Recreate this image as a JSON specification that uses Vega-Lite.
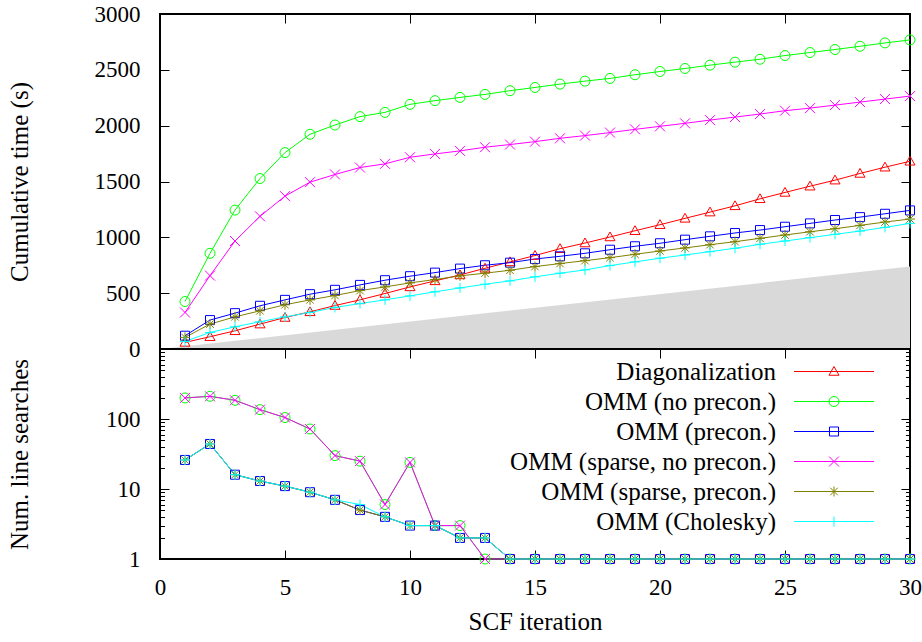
{
  "$schema": "https://vega.github.io/schema/vega-lite/v6.json",
  "background": "white",
  "autosize": {"type": "pad"},
  "padding": {"left": 6, "top": 2, "right": 0, "bottom": 5},
  "spacing": 0,
  "bounds": "flush",
  "config": {
    "view": {"stroke": "black", "strokeWidth": 2},
    "axis": {"domain": false, "grid": false, "tickColor": "black", "tickWidth": 1, "labelFont": "Liberation Serif", "labelFontSize": 23, "labelColor": "black", "labelFlush": false, "labelOverlap": false, "titleFont": "Liberation Serif", "titleFontSize": 25, "titleFontWeight": "normal", "titleColor": "black"}
  },
  "datasets": {
    "timing": [
      {"iter":1,"method":"Diagonalization","time":59},{"iter":2,"method":"Diagonalization","time":110},{"iter":3,"method":"Diagonalization","time":163},{"iter":4,"method":"Diagonalization","time":223},{"iter":5,"method":"Diagonalization","time":282},{"iter":6,"method":"Diagonalization","time":333},{"iter":7,"method":"Diagonalization","time":389},{"iter":8,"method":"Diagonalization","time":440},{"iter":9,"method":"Diagonalization","time":497},{"iter":10,"method":"Diagonalization","time":556},{"iter":11,"method":"Diagonalization","time":610},{"iter":12,"method":"Diagonalization","time":663},{"iter":13,"method":"Diagonalization","time":723},{"iter":14,"method":"Diagonalization","time":780},{"iter":15,"method":"Diagonalization","time":837},{"iter":16,"method":"Diagonalization","time":898},{"iter":17,"method":"Diagonalization","time":949},{"iter":18,"method":"Diagonalization","time":1003},{"iter":19,"method":"Diagonalization","time":1059},{"iter":20,"method":"Diagonalization","time":1113},{"iter":21,"method":"Diagonalization","time":1170},{"iter":22,"method":"Diagonalization","time":1226},{"iter":23,"method":"Diagonalization","time":1282},{"iter":24,"method":"Diagonalization","time":1345},{"iter":25,"method":"Diagonalization","time":1402},{"iter":26,"method":"Diagonalization","time":1458},{"iter":27,"method":"Diagonalization","time":1512},{"iter":28,"method":"Diagonalization","time":1572},{"iter":29,"method":"Diagonalization","time":1628},{"iter":30,"method":"Diagonalization","time":1681},
      {"iter":1,"method":"OMM (no precon.)","time":425},{"iter":2,"method":"OMM (no precon.)","time":857},{"iter":3,"method":"OMM (no precon.)","time":1244},{"iter":4,"method":"OMM (no precon.)","time":1527},{"iter":5,"method":"OMM (no precon.)","time":1759},{"iter":6,"method":"OMM (no precon.)","time":1923},{"iter":7,"method":"OMM (no precon.)","time":2006},{"iter":8,"method":"OMM (no precon.)","time":2081},{"iter":9,"method":"OMM (no precon.)","time":2119},{"iter":10,"method":"OMM (no precon.)","time":2191},{"iter":11,"method":"OMM (no precon.)","time":2224},{"iter":12,"method":"OMM (no precon.)","time":2253},{"iter":13,"method":"OMM (no precon.)","time":2280},{"iter":14,"method":"OMM (no precon.)","time":2313},{"iter":15,"method":"OMM (no precon.)","time":2342},{"iter":16,"method":"OMM (no precon.)","time":2372},{"iter":17,"method":"OMM (no precon.)","time":2399},{"iter":18,"method":"OMM (no precon.)","time":2423},{"iter":19,"method":"OMM (no precon.)","time":2456},{"iter":20,"method":"OMM (no precon.)","time":2485},{"iter":21,"method":"OMM (no precon.)","time":2512},{"iter":22,"method":"OMM (no precon.)","time":2542},{"iter":23,"method":"OMM (no precon.)","time":2569},{"iter":24,"method":"OMM (no precon.)","time":2595},{"iter":25,"method":"OMM (no precon.)","time":2628},{"iter":26,"method":"OMM (no precon.)","time":2655},{"iter":27,"method":"OMM (no precon.)","time":2682},{"iter":28,"method":"OMM (no precon.)","time":2711},{"iter":29,"method":"OMM (no precon.)","time":2741},{"iter":30,"method":"OMM (no precon.)","time":2768},
      {"iter":1,"method":"OMM (precon.)","time":119},{"iter":2,"method":"OMM (precon.)","time":259},{"iter":3,"method":"OMM (precon.)","time":321},{"iter":4,"method":"OMM (precon.)","time":387},{"iter":5,"method":"OMM (precon.)","time":440},{"iter":6,"method":"OMM (precon.)","time":491},{"iter":7,"method":"OMM (precon.)","time":530},{"iter":8,"method":"OMM (precon.)","time":574},{"iter":9,"method":"OMM (precon.)","time":616},{"iter":10,"method":"OMM (precon.)","time":652},{"iter":11,"method":"OMM (precon.)","time":684},{"iter":12,"method":"OMM (precon.)","time":720},{"iter":13,"method":"OMM (precon.)","time":750},{"iter":14,"method":"OMM (precon.)","time":773},{"iter":15,"method":"OMM (precon.)","time":806},{"iter":16,"method":"OMM (precon.)","time":830},{"iter":17,"method":"OMM (precon.)","time":857},{"iter":18,"method":"OMM (precon.)","time":889},{"iter":19,"method":"OMM (precon.)","time":920},{"iter":20,"method":"OMM (precon.)","time":947},{"iter":21,"method":"OMM (precon.)","time":979},{"iter":22,"method":"OMM (precon.)","time":1009},{"iter":23,"method":"OMM (precon.)","time":1039},{"iter":24,"method":"OMM (precon.)","time":1065},{"iter":25,"method":"OMM (precon.)","time":1095},{"iter":26,"method":"OMM (precon.)","time":1125},{"iter":27,"method":"OMM (precon.)","time":1155},{"iter":28,"method":"OMM (precon.)","time":1181},{"iter":29,"method":"OMM (precon.)","time":1211},{"iter":30,"method":"OMM (precon.)","time":1241},
      {"iter":1,"method":"OMM (sparse, no precon.)","time":327},{"iter":2,"method":"OMM (sparse, no precon.)","time":657},{"iter":3,"method":"OMM (sparse, no precon.)","time":967},{"iter":4,"method":"OMM (sparse, no precon.)","time":1188},{"iter":5,"method":"OMM (sparse, no precon.)","time":1369},{"iter":6,"method":"OMM (sparse, no precon.)","time":1494},{"iter":7,"method":"OMM (sparse, no precon.)","time":1563},{"iter":8,"method":"OMM (sparse, no precon.)","time":1625},{"iter":9,"method":"OMM (sparse, no precon.)","time":1658},{"iter":10,"method":"OMM (sparse, no precon.)","time":1717},{"iter":11,"method":"OMM (sparse, no precon.)","time":1747},{"iter":12,"method":"OMM (sparse, no precon.)","time":1774},{"iter":13,"method":"OMM (sparse, no precon.)","time":1807},{"iter":14,"method":"OMM (sparse, no precon.)","time":1831},{"iter":15,"method":"OMM (sparse, no precon.)","time":1857},{"iter":16,"method":"OMM (sparse, no precon.)","time":1887},{"iter":17,"method":"OMM (sparse, no precon.)","time":1911},{"iter":18,"method":"OMM (sparse, no precon.)","time":1938},{"iter":19,"method":"OMM (sparse, no precon.)","time":1967},{"iter":20,"method":"OMM (sparse, no precon.)","time":1994},{"iter":21,"method":"OMM (sparse, no precon.)","time":2021},{"iter":22,"method":"OMM (sparse, no precon.)","time":2050},{"iter":23,"method":"OMM (sparse, no precon.)","time":2077},{"iter":24,"method":"OMM (sparse, no precon.)","time":2104},{"iter":25,"method":"OMM (sparse, no precon.)","time":2134},{"iter":26,"method":"OMM (sparse, no precon.)","time":2157},{"iter":27,"method":"OMM (sparse, no precon.)","time":2184},{"iter":28,"method":"OMM (sparse, no precon.)","time":2211},{"iter":29,"method":"OMM (sparse, no precon.)","time":2238},{"iter":30,"method":"OMM (sparse, no precon.)","time":2265},
      {"iter":1,"method":"OMM (sparse, precon.)","time":104},{"iter":2,"method":"OMM (sparse, precon.)","time":223},{"iter":3,"method":"OMM (sparse, precon.)","time":288},{"iter":4,"method":"OMM (sparse, precon.)","time":342},{"iter":5,"method":"OMM (sparse, precon.)","time":396},{"iter":6,"method":"OMM (sparse, precon.)","time":440},{"iter":7,"method":"OMM (sparse, precon.)","time":479},{"iter":8,"method":"OMM (sparse, precon.)","time":523},{"iter":9,"method":"OMM (sparse, precon.)","time":556},{"iter":10,"method":"OMM (sparse, precon.)","time":592},{"iter":11,"method":"OMM (sparse, precon.)","time":622},{"iter":12,"method":"OMM (sparse, precon.)","time":655},{"iter":13,"method":"OMM (sparse, precon.)","time":679},{"iter":14,"method":"OMM (sparse, precon.)","time":705},{"iter":15,"method":"OMM (sparse, precon.)","time":738},{"iter":16,"method":"OMM (sparse, precon.)","time":765},{"iter":17,"method":"OMM (sparse, precon.)","time":791},{"iter":18,"method":"OMM (sparse, precon.)","time":818},{"iter":19,"method":"OMM (sparse, precon.)","time":848},{"iter":20,"method":"OMM (sparse, precon.)","time":878},{"iter":21,"method":"OMM (sparse, precon.)","time":905},{"iter":22,"method":"OMM (sparse, precon.)","time":934},{"iter":23,"method":"OMM (sparse, precon.)","time":961},{"iter":24,"method":"OMM (sparse, precon.)","time":991},{"iter":25,"method":"OMM (sparse, precon.)","time":1021},{"iter":26,"method":"OMM (sparse, precon.)","time":1050},{"iter":27,"method":"OMM (sparse, precon.)","time":1077},{"iter":28,"method":"OMM (sparse, precon.)","time":1107},{"iter":29,"method":"OMM (sparse, precon.)","time":1137},{"iter":30,"method":"OMM (sparse, precon.)","time":1164},
      {"iter":1,"method":"OMM (Cholesky)","time":68},{"iter":2,"method":"OMM (Cholesky)","time":148},{"iter":3,"method":"OMM (Cholesky)","time":199},{"iter":4,"method":"OMM (Cholesky)","time":244},{"iter":5,"method":"OMM (Cholesky)","time":288},{"iter":6,"method":"OMM (Cholesky)","time":327},{"iter":7,"method":"OMM (Cholesky)","time":372},{"iter":8,"method":"OMM (Cholesky)","time":407},{"iter":9,"method":"OMM (Cholesky)","time":440},{"iter":10,"method":"OMM (Cholesky)","time":476},{"iter":11,"method":"OMM (Cholesky)","time":512},{"iter":12,"method":"OMM (Cholesky)","time":547},{"iter":13,"method":"OMM (Cholesky)","time":580},{"iter":14,"method":"OMM (Cholesky)","time":610},{"iter":15,"method":"OMM (Cholesky)","time":646},{"iter":16,"method":"OMM (Cholesky)","time":679},{"iter":17,"method":"OMM (Cholesky)","time":708},{"iter":18,"method":"OMM (Cholesky)","time":747},{"iter":19,"method":"OMM (Cholesky)","time":780},{"iter":20,"method":"OMM (Cholesky)","time":813},{"iter":21,"method":"OMM (Cholesky)","time":842},{"iter":22,"method":"OMM (Cholesky)","time":872},{"iter":23,"method":"OMM (Cholesky)","time":902},{"iter":24,"method":"OMM (Cholesky)","time":938},{"iter":25,"method":"OMM (Cholesky)","time":967},{"iter":26,"method":"OMM (Cholesky)","time":997},{"iter":27,"method":"OMM (Cholesky)","time":1027},{"iter":28,"method":"OMM (Cholesky)","time":1056},{"iter":29,"method":"OMM (Cholesky)","time":1089},{"iter":30,"method":"OMM (Cholesky)","time":1125}
    ],
    "searches": [
      {"iter":1,"method":"OMM (no precon.)","count":200},{"iter":2,"method":"OMM (no precon.)","count":211},{"iter":3,"method":"OMM (no precon.)","count":185},{"iter":4,"method":"OMM (no precon.)","count":136},{"iter":5,"method":"OMM (no precon.)","count":105},{"iter":6,"method":"OMM (no precon.)","count":72},{"iter":7,"method":"OMM (no precon.)","count":30},{"iter":8,"method":"OMM (no precon.)","count":25},{"iter":9,"method":"OMM (no precon.)","count":6},{"iter":10,"method":"OMM (no precon.)","count":24},{"iter":11,"method":"OMM (no precon.)","count":3},{"iter":12,"method":"OMM (no precon.)","count":3},{"iter":13,"method":"OMM (no precon.)","count":1},{"iter":14,"method":"OMM (no precon.)","count":1},{"iter":15,"method":"OMM (no precon.)","count":1},{"iter":16,"method":"OMM (no precon.)","count":1},{"iter":17,"method":"OMM (no precon.)","count":1},{"iter":18,"method":"OMM (no precon.)","count":1},{"iter":19,"method":"OMM (no precon.)","count":1},{"iter":20,"method":"OMM (no precon.)","count":1},{"iter":21,"method":"OMM (no precon.)","count":1},{"iter":22,"method":"OMM (no precon.)","count":1},{"iter":23,"method":"OMM (no precon.)","count":1},{"iter":24,"method":"OMM (no precon.)","count":1},{"iter":25,"method":"OMM (no precon.)","count":1},{"iter":26,"method":"OMM (no precon.)","count":1},{"iter":27,"method":"OMM (no precon.)","count":1},{"iter":28,"method":"OMM (no precon.)","count":1},{"iter":29,"method":"OMM (no precon.)","count":1},{"iter":30,"method":"OMM (no precon.)","count":1},
      {"iter":1,"method":"OMM (precon.)","count":26},{"iter":2,"method":"OMM (precon.)","count":44},{"iter":3,"method":"OMM (precon.)","count":16},{"iter":4,"method":"OMM (precon.)","count":13},{"iter":5,"method":"OMM (precon.)","count":11},{"iter":6,"method":"OMM (precon.)","count":9},{"iter":7,"method":"OMM (precon.)","count":7},{"iter":8,"method":"OMM (precon.)","count":5},{"iter":9,"method":"OMM (precon.)","count":4},{"iter":10,"method":"OMM (precon.)","count":3},{"iter":11,"method":"OMM (precon.)","count":3},{"iter":12,"method":"OMM (precon.)","count":2},{"iter":13,"method":"OMM (precon.)","count":2},{"iter":14,"method":"OMM (precon.)","count":1},{"iter":15,"method":"OMM (precon.)","count":1},{"iter":16,"method":"OMM (precon.)","count":1},{"iter":17,"method":"OMM (precon.)","count":1},{"iter":18,"method":"OMM (precon.)","count":1},{"iter":19,"method":"OMM (precon.)","count":1},{"iter":20,"method":"OMM (precon.)","count":1},{"iter":21,"method":"OMM (precon.)","count":1},{"iter":22,"method":"OMM (precon.)","count":1},{"iter":23,"method":"OMM (precon.)","count":1},{"iter":24,"method":"OMM (precon.)","count":1},{"iter":25,"method":"OMM (precon.)","count":1},{"iter":26,"method":"OMM (precon.)","count":1},{"iter":27,"method":"OMM (precon.)","count":1},{"iter":28,"method":"OMM (precon.)","count":1},{"iter":29,"method":"OMM (precon.)","count":1},{"iter":30,"method":"OMM (precon.)","count":1},
      {"iter":1,"method":"OMM (sparse, no precon.)","count":200},{"iter":2,"method":"OMM (sparse, no precon.)","count":211},{"iter":3,"method":"OMM (sparse, no precon.)","count":185},{"iter":4,"method":"OMM (sparse, no precon.)","count":136},{"iter":5,"method":"OMM (sparse, no precon.)","count":105},{"iter":6,"method":"OMM (sparse, no precon.)","count":72},{"iter":7,"method":"OMM (sparse, no precon.)","count":30},{"iter":8,"method":"OMM (sparse, no precon.)","count":25},{"iter":9,"method":"OMM (sparse, no precon.)","count":6},{"iter":10,"method":"OMM (sparse, no precon.)","count":24},{"iter":11,"method":"OMM (sparse, no precon.)","count":3},{"iter":12,"method":"OMM (sparse, no precon.)","count":3},{"iter":13,"method":"OMM (sparse, no precon.)","count":1},{"iter":14,"method":"OMM (sparse, no precon.)","count":1},{"iter":15,"method":"OMM (sparse, no precon.)","count":1},{"iter":16,"method":"OMM (sparse, no precon.)","count":1},{"iter":17,"method":"OMM (sparse, no precon.)","count":1},{"iter":18,"method":"OMM (sparse, no precon.)","count":1},{"iter":19,"method":"OMM (sparse, no precon.)","count":1},{"iter":20,"method":"OMM (sparse, no precon.)","count":1},{"iter":21,"method":"OMM (sparse, no precon.)","count":1},{"iter":22,"method":"OMM (sparse, no precon.)","count":1},{"iter":23,"method":"OMM (sparse, no precon.)","count":1},{"iter":24,"method":"OMM (sparse, no precon.)","count":1},{"iter":25,"method":"OMM (sparse, no precon.)","count":1},{"iter":26,"method":"OMM (sparse, no precon.)","count":1},{"iter":27,"method":"OMM (sparse, no precon.)","count":1},{"iter":28,"method":"OMM (sparse, no precon.)","count":1},{"iter":29,"method":"OMM (sparse, no precon.)","count":1},{"iter":30,"method":"OMM (sparse, no precon.)","count":1},
      {"iter":1,"method":"OMM (sparse, precon.)","count":26},{"iter":2,"method":"OMM (sparse, precon.)","count":44},{"iter":3,"method":"OMM (sparse, precon.)","count":16},{"iter":4,"method":"OMM (sparse, precon.)","count":13},{"iter":5,"method":"OMM (sparse, precon.)","count":11},{"iter":6,"method":"OMM (sparse, precon.)","count":9},{"iter":7,"method":"OMM (sparse, precon.)","count":7},{"iter":8,"method":"OMM (sparse, precon.)","count":5},{"iter":9,"method":"OMM (sparse, precon.)","count":4},{"iter":10,"method":"OMM (sparse, precon.)","count":3},{"iter":11,"method":"OMM (sparse, precon.)","count":3},{"iter":12,"method":"OMM (sparse, precon.)","count":2},{"iter":13,"method":"OMM (sparse, precon.)","count":2},{"iter":14,"method":"OMM (sparse, precon.)","count":1},{"iter":15,"method":"OMM (sparse, precon.)","count":1},{"iter":16,"method":"OMM (sparse, precon.)","count":1},{"iter":17,"method":"OMM (sparse, precon.)","count":1},{"iter":18,"method":"OMM (sparse, precon.)","count":1},{"iter":19,"method":"OMM (sparse, precon.)","count":1},{"iter":20,"method":"OMM (sparse, precon.)","count":1},{"iter":21,"method":"OMM (sparse, precon.)","count":1},{"iter":22,"method":"OMM (sparse, precon.)","count":1},{"iter":23,"method":"OMM (sparse, precon.)","count":1},{"iter":24,"method":"OMM (sparse, precon.)","count":1},{"iter":25,"method":"OMM (sparse, precon.)","count":1},{"iter":26,"method":"OMM (sparse, precon.)","count":1},{"iter":27,"method":"OMM (sparse, precon.)","count":1},{"iter":28,"method":"OMM (sparse, precon.)","count":1},{"iter":29,"method":"OMM (sparse, precon.)","count":1},{"iter":30,"method":"OMM (sparse, precon.)","count":1},
      {"iter":1,"method":"OMM (Cholesky)","count":26},{"iter":2,"method":"OMM (Cholesky)","count":44},{"iter":3,"method":"OMM (Cholesky)","count":16},{"iter":4,"method":"OMM (Cholesky)","count":13},{"iter":5,"method":"OMM (Cholesky)","count":11},{"iter":6,"method":"OMM (Cholesky)","count":9},{"iter":7,"method":"OMM (Cholesky)","count":7},{"iter":8,"method":"OMM (Cholesky)","count":6},{"iter":9,"method":"OMM (Cholesky)","count":4},{"iter":10,"method":"OMM (Cholesky)","count":3},{"iter":11,"method":"OMM (Cholesky)","count":3},{"iter":12,"method":"OMM (Cholesky)","count":2},{"iter":13,"method":"OMM (Cholesky)","count":2},{"iter":14,"method":"OMM (Cholesky)","count":1},{"iter":15,"method":"OMM (Cholesky)","count":1},{"iter":16,"method":"OMM (Cholesky)","count":1},{"iter":17,"method":"OMM (Cholesky)","count":1},{"iter":18,"method":"OMM (Cholesky)","count":1},{"iter":19,"method":"OMM (Cholesky)","count":1},{"iter":20,"method":"OMM (Cholesky)","count":1},{"iter":21,"method":"OMM (Cholesky)","count":1},{"iter":22,"method":"OMM (Cholesky)","count":1},{"iter":23,"method":"OMM (Cholesky)","count":1},{"iter":24,"method":"OMM (Cholesky)","count":1},{"iter":25,"method":"OMM (Cholesky)","count":1},{"iter":26,"method":"OMM (Cholesky)","count":1},{"iter":27,"method":"OMM (Cholesky)","count":1},{"iter":28,"method":"OMM (Cholesky)","count":1},{"iter":29,"method":"OMM (Cholesky)","count":1},{"iter":30,"method":"OMM (Cholesky)","count":1}
    ],
    "band": [{"iter": 0, "time": 0}, {"iter": 30, "time": 738}]
  },
  "vconcat": [
    {
      "width": 750,
      "height": 335,
      "layer": [
        {
          "data": {"name": "band"},
          "mark": {"type": "area", "color": "#d9d9d9"},
          "encoding": {
            "x": {"field": "iter", "type": "quantitative", "scale": {"domain": [0, 30], "nice": false, "zero": false}, "axis": {"orient": "bottom", "values": [5, 10, 15, 20, 25], "labels": false, "tickSize": -9, "title": null}},
            "y": {"field": "time", "type": "quantitative", "scale": {"domain": [0, 3000], "nice": false}, "axis": {"orient": "left", "values": [0, 500, 1000, 1500, 2000, 2500, 3000], "format": "d", "tickSize": -9, "labelPadding": 29, "title": "Cumulative time (s)", "titleX": -128}}
          }
        },
        {
          "data": {"name": "timing"},
          "mark": {"type": "line", "strokeWidth": 1},
          "encoding": {
            "x": {"field": "iter", "type": "quantitative", "axis": null},
            "y": {"field": "time", "type": "quantitative", "axis": null},
            "color": {"field": "method", "type": "nominal", "scale": {"domain": ["Diagonalization", "OMM (no precon.)", "OMM (precon.)", "OMM (sparse, no precon.)", "OMM (sparse, precon.)", "OMM (Cholesky)"], "range": ["#ff0000", "#00ff00", "#0000ff", "#ff00ff", "#808000", "#00ffff"]}, "legend": null}
          }
        },
        {
          "data": {"name": "timing"},
          "mark": {"type": "point", "filled": false, "strokeWidth": 1, "size": 100, "opacity": 1},
          "encoding": {
            "x": {"field": "iter", "type": "quantitative", "axis": null},
            "y": {"field": "time", "type": "quantitative", "axis": null},
            "color": {"field": "method", "type": "nominal", "scale": {"domain": ["Diagonalization", "OMM (no precon.)", "OMM (precon.)", "OMM (sparse, no precon.)", "OMM (sparse, precon.)", "OMM (Cholesky)"], "range": ["#ff0000", "#00ff00", "#0000ff", "#ff00ff", "#808000", "#00ffff"]}, "legend": null},
            "shape": {"field": "method", "type": "nominal", "scale": {"domain": ["Diagonalization", "OMM (no precon.)", "OMM (precon.)", "OMM (sparse, no precon.)", "OMM (sparse, precon.)", "OMM (Cholesky)"], "range": ["M0,-1L1,0.75L-1,0.75Z", "M1,0A1,1,0,1,1,-1,0A1,1,0,1,1,1,0Z", "M-0.9,-0.9L0.9,-0.9L0.9,0.9L-0.9,0.9Z", "M-1,-1L1,1M-1,1L1,-1", "M-1,0L1,0M0,-1L0,1M-0.75,-0.75L0.75,0.75M-0.75,0.75L0.75,-0.75", "M-1,0L1,0M0,-1L0,1"]}, "legend": null}
          }
        },
        {
          "data": {"name": "timing"},
          "mark": {"type": "point", "opacity": 0},
          "encoding": {
            "x": {"field": "iter", "type": "quantitative", "axis": {"orient": "top", "values": [5, 10, 15, 20, 25], "labels": false, "tickSize": -9, "title": null}},
            "y": {"field": "time", "type": "quantitative", "axis": {"orient": "right", "values": [500, 1000, 1500, 2000, 2500], "labels": false, "tickSize": -9, "title": null}}
          }
        }
      ],
      "resolve": {"axis": {"x": "independent", "y": "independent"}}
    },
    {
      "width": 750,
      "height": 210,
      "layer": [
        {
          "data": {"name": "searches"},
          "mark": {"type": "line", "strokeWidth": 1},
          "encoding": {
            "x": {"field": "iter", "type": "quantitative", "scale": {"domain": [0, 30], "nice": false, "zero": false}, "axis": {"orient": "bottom", "values": [0, 5, 10, 15, 20, 25, 30], "tickSize": -9, "labelPadding": 26, "title": "SCF iteration", "titlePadding": 10}},
            "y": {"field": "count", "type": "quantitative", "scale": {"type": "log", "domain": [1, 1000], "nice": false}, "axis": {"orient": "left", "values": [1, 10, 100, 1000], "format": "d", "labelExpr": "datum.value < 500 ? datum.label : ''", "tickSize": -9, "labelPadding": 29, "title": "Num. line searches", "titleX": -128}},
            "color": {"field": "method", "type": "nominal", "scale": {"domain": ["Diagonalization", "OMM (no precon.)", "OMM (precon.)", "OMM (sparse, no precon.)", "OMM (sparse, precon.)", "OMM (Cholesky)"], "range": ["#ff0000", "#00ff00", "#0000ff", "#ff00ff", "#808000", "#00ffff"]},
              "legend": {"orient": "none", "legendX": 616, "legendY": 10, "title": null, "direction": "vertical", "padding": 0, "labelFont": "Liberation Serif", "labelFontSize": 25, "labelColor": "black", "labelLimit": 0, "symbolSize": 100, "symbolStrokeWidth": 1, "symbolOpacity": 1, "symbolFillColor": "transparent", "rowPadding": 4,
                "encode": {"symbols": {"update": {"x": {"value": 58}}}, "labels": {"update": {"x": {"value": 0}, "align": {"value": "right"}}}}}}
          }
        },
        {
          "data": {"name": "searches"},
          "transform": [{"filter": "datum.method === 'OMM (no precon.)'"}],
          "mark": {"type": "point", "filled": false, "strokeWidth": 1, "size": 100, "opacity": 1, "color": "#00ff00", "shape": "M1,0A1,1,0,1,1,-1,0A1,1,0,1,1,1,0Z"},
          "encoding": {
            "x": {"field": "iter", "type": "quantitative", "axis": null},
            "y": {"field": "count", "type": "quantitative", "axis": {"orient": "left", "values": [2, 3, 4, 5, 6, 7, 8, 9, 20, 30, 40, 50, 60, 70, 80, 90, 200, 300, 400, 500, 600, 700, 800, 900], "labels": false, "tickSize": -4.5, "title": null}}
          }
        },
        {
          "data": {"name": "searches"},
          "transform": [{"filter": "datum.method === 'OMM (precon.)'"}],
          "mark": {"type": "point", "filled": false, "strokeWidth": 1, "size": 100, "opacity": 1, "color": "#0000ff", "shape": "M-0.9,-0.9L0.9,-0.9L0.9,0.9L-0.9,0.9Z"},
          "encoding": {
            "x": {"field": "iter", "type": "quantitative", "axis": null},
            "y": {"field": "count", "type": "quantitative", "axis": null}
          }
        },
        {
          "data": {"name": "searches"},
          "transform": [{"filter": "datum.method === 'OMM (sparse, no precon.)'"}],
          "mark": {"type": "point", "filled": false, "strokeWidth": 1, "size": 100, "opacity": 1, "color": "#ff00ff", "shape": "M-1,-1L1,1M-1,1L1,-1"},
          "encoding": {
            "x": {"field": "iter", "type": "quantitative", "axis": null},
            "y": {"field": "count", "type": "quantitative", "axis": null}
          }
        },
        {
          "data": {"name": "searches"},
          "transform": [{"filter": "datum.method === 'OMM (sparse, precon.)'"}],
          "mark": {"type": "point", "filled": false, "strokeWidth": 1, "size": 100, "opacity": 1, "color": "#808000", "shape": "M-1,0L1,0M0,-1L0,1M-0.75,-0.75L0.75,0.75M-0.75,0.75L0.75,-0.75"},
          "encoding": {
            "x": {"field": "iter", "type": "quantitative", "axis": null},
            "y": {"field": "count", "type": "quantitative", "axis": null}
          }
        },
        {
          "data": {"name": "searches"},
          "transform": [{"filter": "datum.method === 'OMM (Cholesky)'"}],
          "mark": {"type": "point", "filled": false, "strokeWidth": 1, "size": 100, "opacity": 1, "color": "#00ffff", "shape": "M-1,0L1,0M0,-1L0,1"},
          "encoding": {
            "x": {"field": "iter", "type": "quantitative", "axis": null},
            "y": {"field": "count", "type": "quantitative", "axis": null}
          }
        },
        {
          "data": {"name": "searches"},
          "mark": {"type": "point", "opacity": 0},
          "encoding": {
            "x": {"field": "iter", "type": "quantitative", "axis": {"orient": "top", "values": [5, 10, 15, 20, 25], "labels": false, "tickSize": -9, "title": null}},
            "y": {"field": "count", "type": "quantitative", "axis": {"orient": "right", "values": [1, 10, 100, 1000], "labels": false, "tickSize": -9, "title": null}}
          }
        },
        {
          "data": {"name": "searches"},
          "mark": {"type": "point", "opacity": 0},
          "encoding": {
            "x": {"field": "iter", "type": "quantitative", "axis": null},
            "y": {"field": "count", "type": "quantitative", "axis": {"orient": "right", "values": [2, 3, 4, 5, 6, 7, 8, 9, 20, 30, 40, 50, 60, 70, 80, 90, 200, 300, 400, 500, 600, 700, 800, 900], "labels": false, "tickSize": -4.5, "title": null}}
          }
        },
        {
          "data": {"name": "searches"},
          "mark": {"type": "point", "filled": false, "opacity": 0, "strokeWidth": 1, "size": 100},
          "encoding": {
            "x": {"field": "iter", "type": "quantitative", "axis": null},
            "y": {"field": "count", "type": "quantitative", "axis": null},
            "color": {"field": "method", "type": "nominal", "scale": {"domain": ["Diagonalization", "OMM (no precon.)", "OMM (precon.)", "OMM (sparse, no precon.)", "OMM (sparse, precon.)", "OMM (Cholesky)"], "range": ["#ff0000", "#00ff00", "#0000ff", "#ff00ff", "#808000", "#00ffff"]}, "legend": null},
            "shape": {"field": "method", "type": "nominal", "scale": {"domain": ["Diagonalization", "OMM (no precon.)", "OMM (precon.)", "OMM (sparse, no precon.)", "OMM (sparse, precon.)", "OMM (Cholesky)"], "range": ["M-8,0L8,0M0,-1L1,0.75L-1,0.75Z", "M-8,0L8,0M1,0A1,1,0,1,1,-1,0A1,1,0,1,1,1,0Z", "M-8,0L8,0M-0.9,-0.9L0.9,-0.9L0.9,0.9L-0.9,0.9Z", "M-8,0L8,0M-1,-1L1,1M-1,1L1,-1", "M-8,0L8,0M-1,0L1,0M0,-1L0,1M-0.75,-0.75L0.75,0.75M-0.75,0.75L0.75,-0.75", "M-8,0L8,0M0,-1L0,1"]}, "legend": null}
          }
        }
      ],
      "resolve": {"axis": {"x": "independent", "y": "independent"}}
    }
  ],
  "resolve": {"scale": {"color": "independent", "shape": "independent", "y": "independent"}}
}
